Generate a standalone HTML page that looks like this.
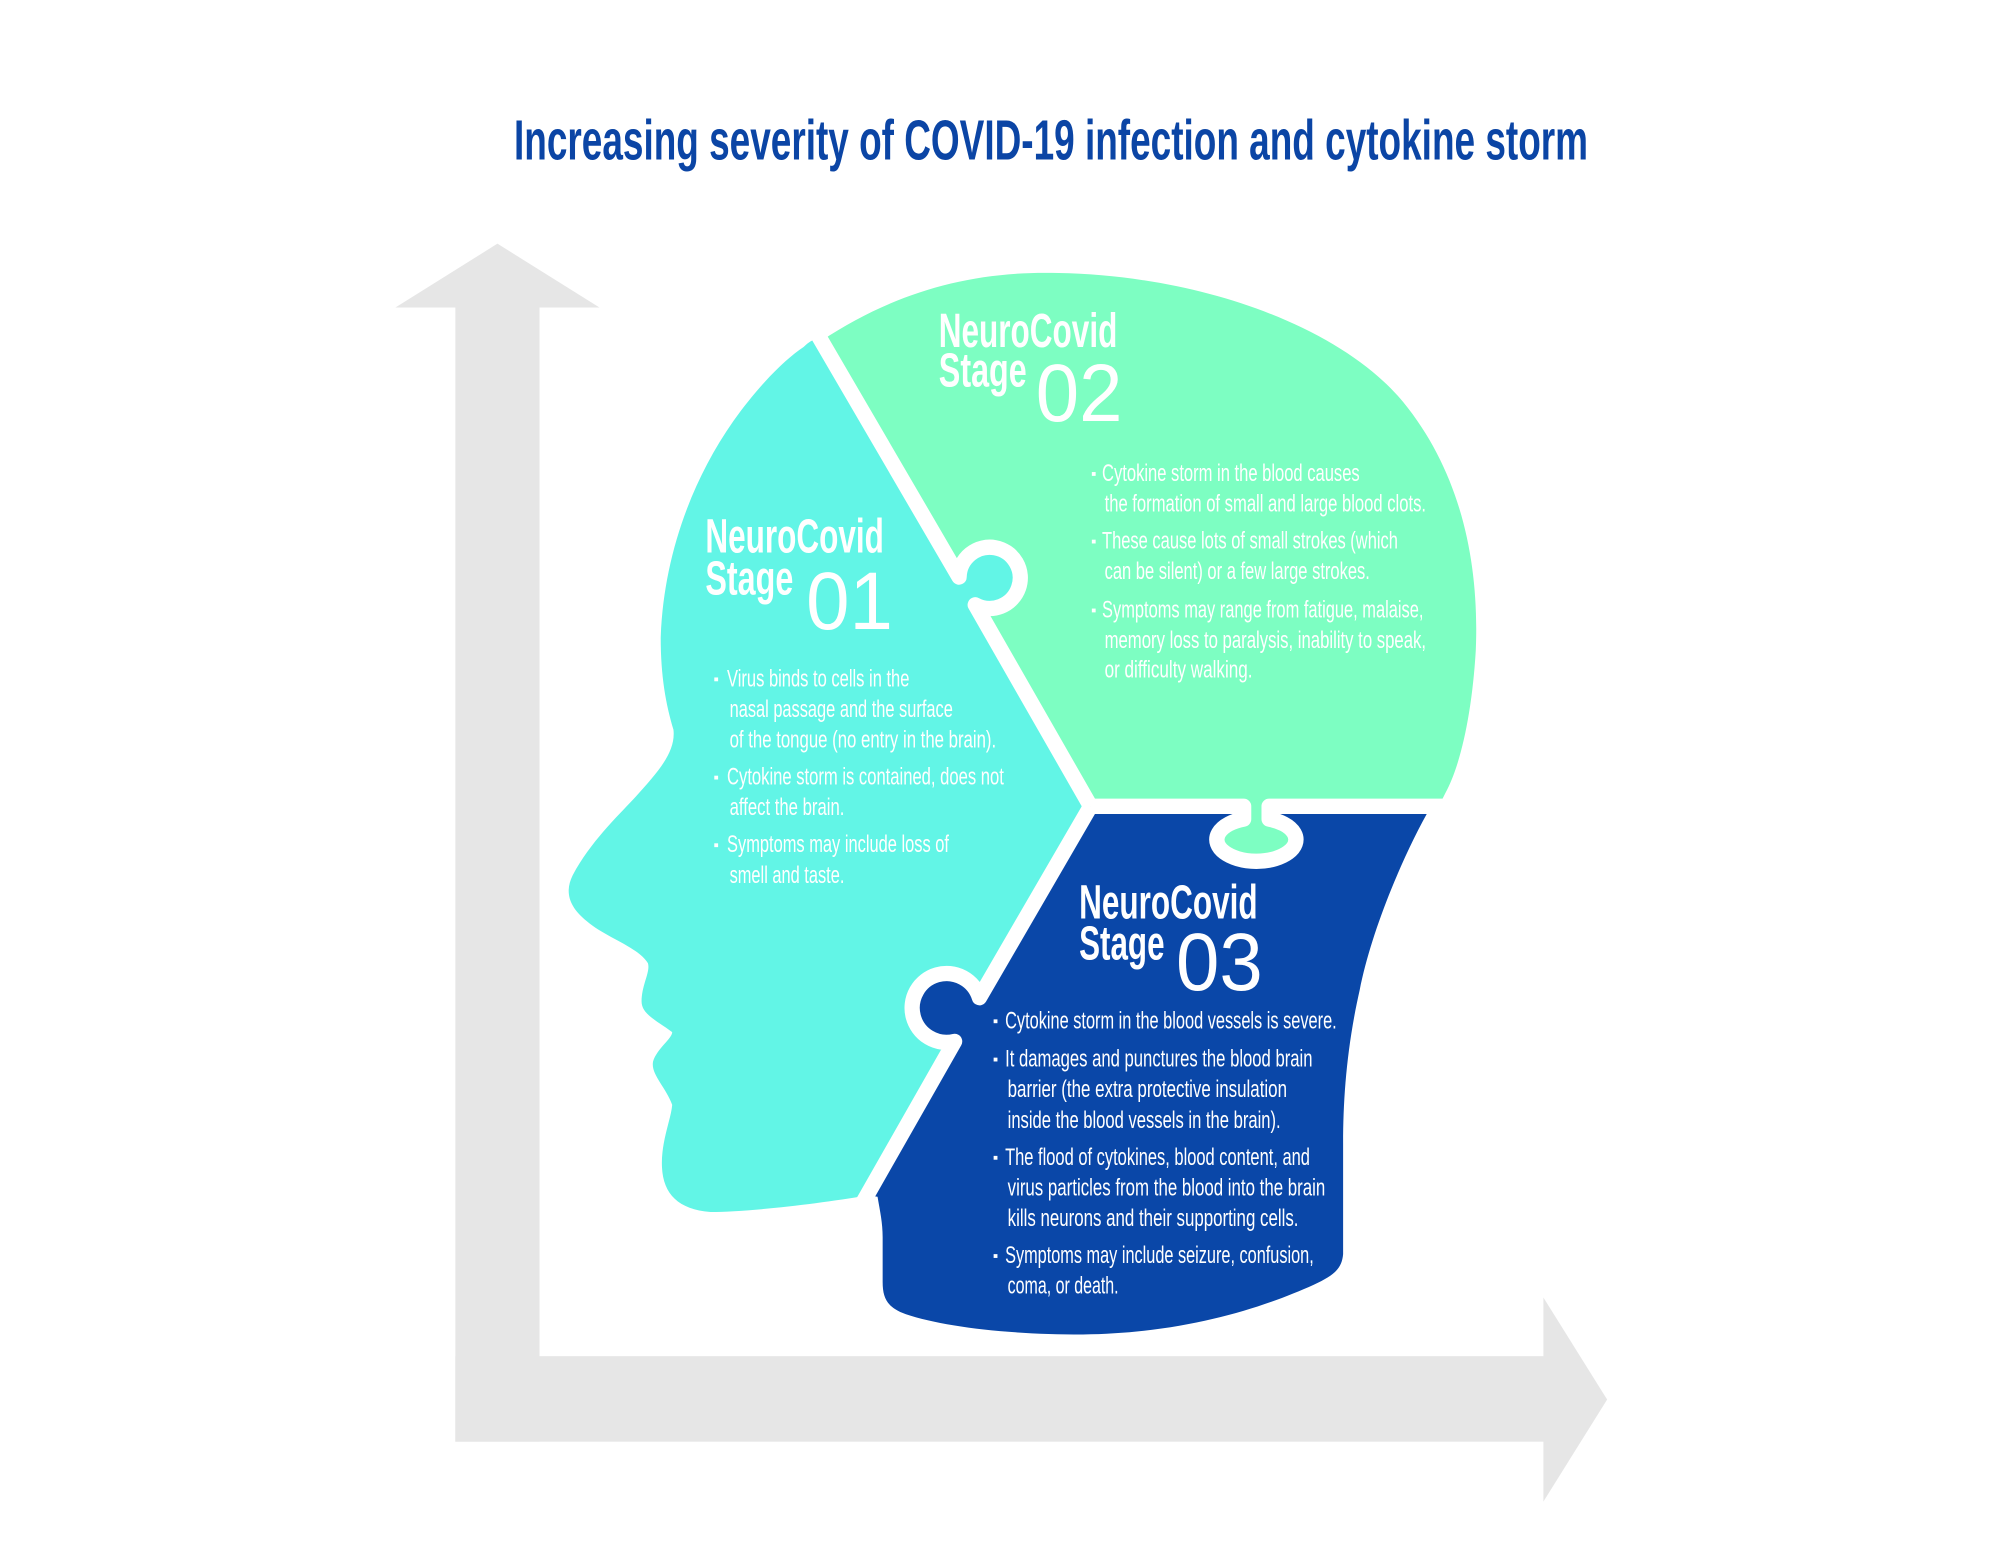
<!DOCTYPE html>
<html><head><meta charset="utf-8"><style>
html,body{margin:0;padding:0;background:#fff;}
svg{display:block;}
text{font-family:"Liberation Sans",sans-serif;}
.t{fill:#fff;font-weight:bold;font-size:38px;}
.n{fill:#fff;font-size:64px;}
.b{fill:#fff;font-size:19px;}
</style></head><body>
<svg width="2000" height="1545" viewBox="0 0 1568 1211" preserveAspectRatio="none" xmlns="http://www.w3.org/2000/svg">
<rect width="1568" height="1211" fill="#fff"/>
<!-- arrows -->
<g fill="#e6e6e6">
<rect x="357" y="240" width="66" height="890"/>
<polygon points="310,241 390,191 470,241"/>
<rect x="357" y="1063" width="854" height="67"/>
<polygon points="1210,1017 1260,1097 1210,1177"/>
</g>
<!-- title -->
<text x="403" y="125" font-size="44" font-weight="bold" fill="#0b45a5" textLength="842" lengthAdjust="spacingAndGlyphs">Increasing severity of COVID-19 infection and cytokine storm</text>

<!-- green stage 2 -->
<path fill="#7dfec2" d="M644,267 C700,230 760,212 830,214 C940,216 1050,255 1100,315 C1145,370 1160,440 1157,510 C1154,560 1145,600 1133,622 L1128,632 L995,632 L995,642 A31,17 0 1,1 975,642 L975,632 L855,632 L764.6,474.1 A24,24 0 1,0 751.9,452.3 Z"/>
<!-- cyan stage 1 -->
<path fill="#62f5e6" d="M644,267 L751.9,452.3 A24,24 0 1,1 764.6,474.1 L855,632 L767.9,782 A27,27 0 1,0 748.4,816.3 L680,937 C640,944 585,950 557,950 C532,948 520,936 519,915 C518,895 526,878 527,866 C522,852 510,842 512,832 C515,822 527,814 527,809 C515,800 503,795 503,785 C503,772 510,762 508,755 C500,742 475,735 460,722 C445,710 443,698 449,686 C463,660 483,641 497,626 C515,606 530,590 528,572 C522,552 518,530 518,500 C520,440 540,380 575,330 C595,302 615,282 630,272 C636,266 640,265 644,267 Z"/>
<!-- blue stage 3 -->
<path fill="#0a47a8" d="M855,632 L975,632 L975,642 A31,17 0 1,0 995,642 L995,632 L1122,632 C1100,670 1075,730 1066,776 C1056,820 1053,860 1053,896 L1053,983 C1052,995 1045,1000 1030,1007 C990,1025 930,1045 849,1046 C790,1046 740,1040 710,1030 C696,1025 692,1018 692,1005 L692,970 C692,958 690,950 688,938 L680,937 L748.4,816.3 A27,27 0 1,1 767.9,782 Z"/>
<!-- white dividers -->
<g fill="none" stroke="#fff" stroke-width="12" stroke-linejoin="round">
<path d="M638,257 L751.9,452.3 A24,24 0 1,1 764.6,474.1 L855,632"/>
<path d="M855,632 L767.9,782 A27,27 0 1,0 748.4,816.3 L674,947"/>
<path d="M855,632 L975,632 L975,642 A31,17 0 1,0 995,642 L995,632 L1145,632"/>
</g>

<!-- stage 1 text -->
<text class="t" x="553" y="433" textLength="140" lengthAdjust="spacingAndGlyphs">NeuroCovid</text>
<text class="t" x="553" y="466" textLength="69" lengthAdjust="spacingAndGlyphs">Stage</text>
<text class="n" x="632" y="493" textLength="68" lengthAdjust="spacingAndGlyphs">01</text>
<g fill="#fff"><rect x="560" y="531" width="3" height="3"/><rect x="560" y="608" width="3" height="3"/><rect x="560" y="661" width="3" height="3"/></g>
<text class="b" x="570" y="538" textLength="143" lengthAdjust="spacingAndGlyphs">Virus binds to cells in the</text>
<text class="b" x="572" y="562" textLength="175" lengthAdjust="spacingAndGlyphs">nasal passage and the surface</text>
<text class="b" x="572" y="586" textLength="209" lengthAdjust="spacingAndGlyphs">of the tongue (no entry in the brain).</text>
<text class="b" x="570" y="615" textLength="217" lengthAdjust="spacingAndGlyphs">Cytokine storm is contained, does not</text>
<text class="b" x="572" y="639" textLength="90" lengthAdjust="spacingAndGlyphs">affect the brain.</text>
<text class="b" x="570" y="668" textLength="174" lengthAdjust="spacingAndGlyphs">Symptoms may include loss of</text>
<text class="b" x="572" y="692" textLength="90" lengthAdjust="spacingAndGlyphs">smell and taste.</text>

<!-- stage 2 text -->
<text class="t" x="736" y="272" textLength="140" lengthAdjust="spacingAndGlyphs">NeuroCovid</text>
<text class="t" x="736" y="303" textLength="69" lengthAdjust="spacingAndGlyphs">Stage</text>
<text class="n" x="812" y="330" textLength="68" lengthAdjust="spacingAndGlyphs">02</text>
<g fill="#fff"><rect x="856" y="370" width="3" height="3"/><rect x="856" y="423" width="3" height="3"/><rect x="856" y="477" width="3" height="3"/></g>
<text class="b" x="864" y="377" textLength="202" lengthAdjust="spacingAndGlyphs">Cytokine storm in the blood causes</text>
<text class="b" x="866" y="401" textLength="252" lengthAdjust="spacingAndGlyphs">the formation of small and large blood clots.</text>
<text class="b" x="864" y="430" textLength="232" lengthAdjust="spacingAndGlyphs">These cause lots of small strokes (which</text>
<text class="b" x="866" y="454" textLength="208" lengthAdjust="spacingAndGlyphs">can be silent) or a few large strokes.</text>
<text class="b" x="864" y="484" textLength="252" lengthAdjust="spacingAndGlyphs">Symptoms may range from fatigue, malaise,</text>
<text class="b" x="866" y="508" textLength="252" lengthAdjust="spacingAndGlyphs">memory loss to paralysis, inability to speak,</text>
<text class="b" x="866" y="531" textLength="116" lengthAdjust="spacingAndGlyphs">or difficulty walking.</text>

<!-- stage 3 text -->
<text class="t" x="846" y="720" textLength="140" lengthAdjust="spacingAndGlyphs">NeuroCovid</text>
<text class="t" x="846" y="752" textLength="67" lengthAdjust="spacingAndGlyphs">Stage</text>
<text class="n" x="922" y="776" textLength="68" lengthAdjust="spacingAndGlyphs">03</text>
<g fill="#fff"><rect x="779" y="799" width="3" height="3"/><rect x="779" y="829" width="3" height="3"/><rect x="779" y="906" width="3" height="3"/><rect x="779" y="983" width="3" height="3"/></g>
<text class="b" x="788" y="806" textLength="260" lengthAdjust="spacingAndGlyphs">Cytokine storm in the blood vessels is severe.</text>
<text class="b" x="788" y="836" textLength="241" lengthAdjust="spacingAndGlyphs">It damages and punctures the blood brain</text>
<text class="b" x="790" y="860" textLength="219" lengthAdjust="spacingAndGlyphs">barrier (the extra protective insulation</text>
<text class="b" x="790" y="884" textLength="214" lengthAdjust="spacingAndGlyphs">inside the blood vessels in the brain).</text>
<text class="b" x="788" y="913" textLength="239" lengthAdjust="spacingAndGlyphs">The flood of cytokines, blood content, and</text>
<text class="b" x="790" y="937" textLength="249" lengthAdjust="spacingAndGlyphs">virus particles from the blood into the brain</text>
<text class="b" x="790" y="961" textLength="228" lengthAdjust="spacingAndGlyphs">kills neurons and their supporting cells.</text>
<text class="b" x="788" y="990" textLength="242" lengthAdjust="spacingAndGlyphs">Symptoms may include seizure, confusion,</text>
<text class="b" x="790" y="1014" textLength="87" lengthAdjust="spacingAndGlyphs">coma, or death.</text>
</svg>
</body></html>
